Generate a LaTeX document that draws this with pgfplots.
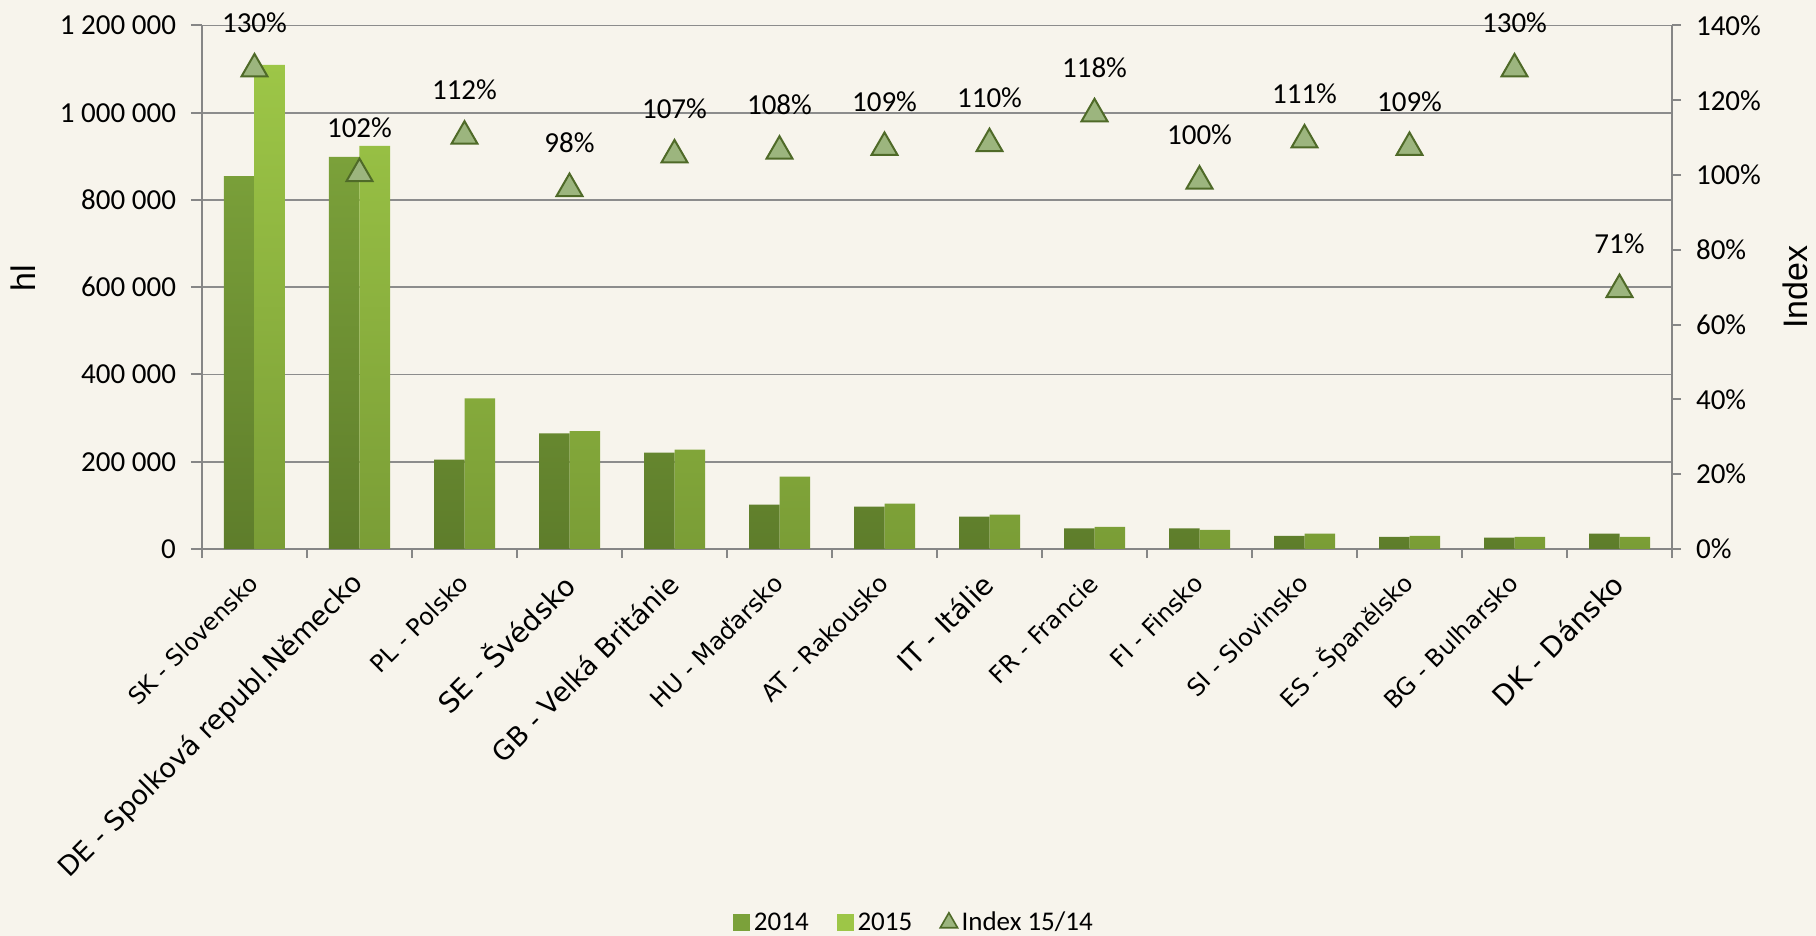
\documentclass[border=0pt]{standalone}
\usepackage{fontspec}
\setmainfont{Carlito}
\newfontfamily\xf{DejaVu Sans}
\newfontfamily\af{Liberation Sans}
\usepackage{pgfplots}
\pgfplotsset{compat=1.18}

\definecolor{bg}{HTML}{F7F4EC}
\definecolor{gridc}{HTML}{8C8C8C}
\definecolor{axc}{HTML}{868686}
\definecolor{c14top}{HTML}{7BA13A}
\definecolor{c14bot}{HTML}{5E7D2B}
\definecolor{c15top}{HTML}{9DC647}
\definecolor{c15bot}{HTML}{7A9D36}
\definecolor{trif}{HTML}{9CB57E}
\definecolor{tride}{HTML}{4F6A28}

% label sizes
\newcommand\fs[1]{\fontsize{#1}{#1}\selectfont}

\begin{document}
\begin{tikzpicture}
\path[use as bounding box, fill=bg] (-101pt,-193.5pt) rectangle (807pt,274.5pt);
\begin{axis}[name=ax, at={(0,0)}, anchor=south west, scale only axis,
  width=735pt, height=261.75pt,
  xmin=-0.5, xmax=13.5, ymin=0, ymax=1200000,
  ybar=0pt, bar width=15.25pt,
  axis y line*=left, axis x line*=bottom,
  axis line style={axc, line width=1pt},
  tick style={axc, line width=1pt},
  tick align=outside, major tick length=5.5pt, minor tick length=4.5pt,
  xtick={0,...,13}, major x tick style={draw=none},
  minor xtick={-0.5,0.5,...,13.5},
  xticklabels={{\fs{11.7}SK - Slovensko},{\fs{13.5}DE - Spolková republ.Německo},{\fs{11.9}PL - Polsko},
    {\fs{14}SE - Švédsko},{\fs{13.4}GB - Velká Británie},{\fs{12}HU - Maďarsko},{\fs{12}AT - Rakousko},
    {\fs{14}IT - Itálie},{\fs{12}FR - Francie},{\fs{12}FI - Finsko},{\fs{12}SI - Slovinsko},
    {\fs{11.9}ES - Španělsko},{\fs{12}BG - Bulharsko},{\fs{14}DK - Dánsko}},
  xticklabel style={font=\xf, xshift=-0.5pt, yshift=-9.5pt, rotate=45, anchor=east, inner sep=0pt},
  ytick={0,200000,...,1200000},
  yticklabels={0,200 000,400 000,600 000,800 000,1 000 000,1 200 000},
  scaled y ticks=false,
  yticklabel style={font=\fs{14.5}, xshift=-4pt},
  ymajorgrids, grid style={gridc, line width=0.9pt},
  ylabel={hl},
  every axis y label/.style={at={(axis description cs:-0.1218,0.518)}, rotate=90, anchor=center, font=\af\fs{17}},
]
\addplot[draw=none, top color=c14top, bottom color=c14bot] coordinates {
  (0,855000) (1,899000) (2,205000) (3,265000) (4,221000) (5,102000) (6,97000)
  (7,74000) (8,47000) (9,47000) (10,30000) (11,28000) (12,26000) (13,35000)};
\addplot[draw=none, top color=c15top, bottom color=c15bot] coordinates {
  (0,1110000) (1,924000) (2,345000) (3,270000) (4,228000) (5,166000) (6,104000)
  (7,79000) (8,51000) (9,44000) (10,35000) (11,30000) (12,28000) (13,28000)};
\end{axis}
\begin{axis}[at={(0,0)}, anchor=south west, scale only axis,
  width=735pt, height=261.75pt,
  xmin=-0.5, xmax=13.5, ymin=0, ymax=140,
  axis y line*=right, axis x line=none,
  axis line style={axc, line width=1pt},
  tick style={axc, line width=1pt},
  tick align=outside, major tick length=4.5pt,
  ytick={0,20,...,140},
  yticklabels={0\%,20\%,40\%,60\%,80\%,100\%,120\%,140\%},
  yticklabel style={font=\fs{14.5}, xshift=4pt},
  ylabel={Index},
  every axis y label/.style={at={(axis description cs:1.0837,0.50)}, rotate=90, anchor=center, font=\af\fs{17}},
  clip=false,
  legend style={at={(axis description cs:0.485,-0.714)}, anchor=center, draw=none, fill=none,
    legend columns=3, font=\fs{13.5},
    /tikz/every even column/.append style={column sep=12pt}},
]
\addlegendimage{legend image code/.code={\fill[c14top] (0pt,-4pt) rectangle (8pt,4pt);}}
\addlegendentry{2014}
\addlegendimage{legend image code/.code={\fill[c15top] (0pt,-4pt) rectangle (8pt,4pt);}}
\addlegendentry{2015}
\addlegendimage{only marks, mark=triangle*, mark size=5pt, mark options={fill=trif, draw=tride, line width=0.8pt}}
\addlegendentry{Index 15/14}
\addplot[forget plot, only marks, mark=triangle*, mark size=7.5pt,
  mark options={fill=trif, draw=tride, line width=1pt, yshift=-3pt},
  nodes near coords, point meta=explicit symbolic,
  every node near coord/.append style={font=\fs{14.5}, anchor=center, yshift=23pt}]
  coordinates {(0,130) [130\%] (1,102) [102\%] (2,112) [112\%] (3,98) [98\%]
  (4,107) [107\%] (5,108) [108\%] (6,109) [109\%] (7,110) [110\%] (8,118) [118\%]
  (9,100) [100\%] (10,111) [111\%] (11,109) [109\%] (12,130) [130\%] (13,71) [71\%]};
\end{axis}
\end{tikzpicture}
\end{document}
